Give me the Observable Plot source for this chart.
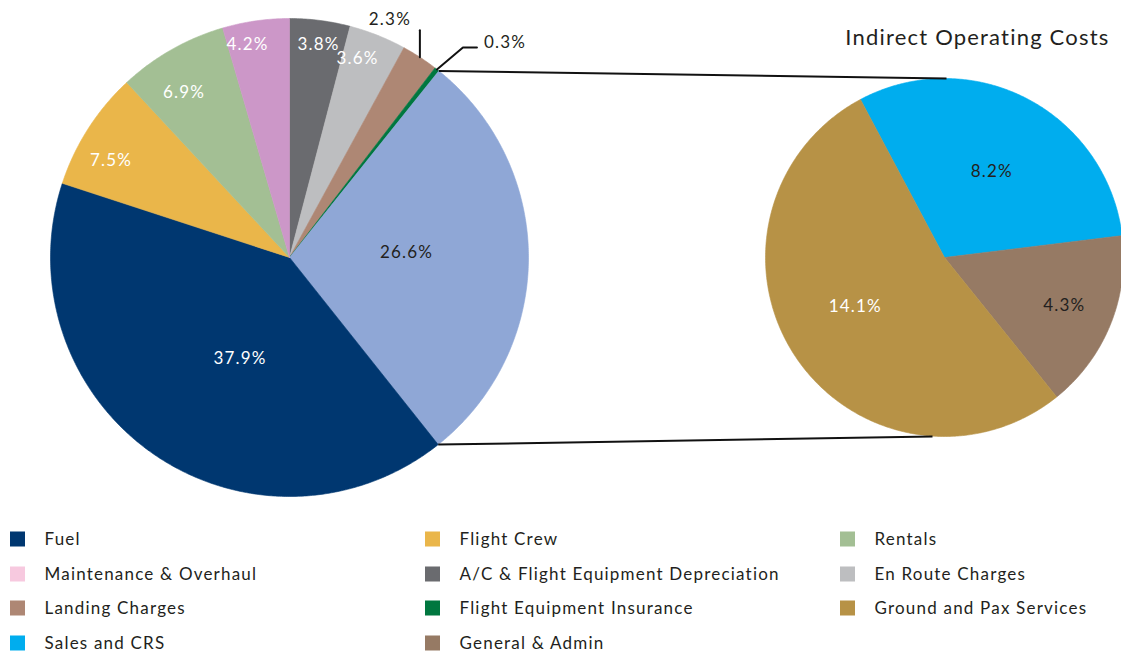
<!DOCTYPE html>
<html>
<head>
<meta charset="utf-8">
<script src="https://cdn.jsdelivr.net/npm/d3@7"></script>
<script src="https://cdn.jsdelivr.net/npm/@observablehq/plot@0.6"></script>
<style>
  html, body { margin: 0; padding: 0; background: #fff; }
  #chart svg { display: block; }
  #chart svg text { letter-spacing: 1.2px; }
  #chart svg g[aria-label="title"] text { letter-spacing: 1.4px; }
</style>
</head>
<body>
<div id="chart"></div>
<script>
// ---------------- DATA ----------------
const mainCategories = [
  "A/C & Flight Equipment Depreciation",
  "En Route Charges",
  "Landing Charges",
  "Flight Equipment Insurance",
  "Indirect Operating Costs",
  "Fuel",
  "Flight Crew",
  "Rentals",
  "Maintenance & Overhaul"
];
const mainValues = [3.8, 3.6, 2.3, 0.3, 26.6, 37.9, 7.5, 6.9, 4.2];

const indirectCategories = ["Sales and CRS", "General & Admin", "Ground and Pax Services"];
const indirectValues = [8.2, 4.3, 14.1];

const legendLabels = [
  "Fuel", "Flight Crew", "Rentals",
  "Maintenance & Overhaul", "A/C & Flight Equipment Depreciation", "En Route Charges",
  "Landing Charges", "Flight Equipment Insurance", "Ground and Pax Services",
  "Sales and CRS", "General & Admin"
];
const secondaryTitle = "Indirect Operating Costs";

// ---------------- STYLE ----------------
const colors = {
  "Fuel": "#003770",
  "Flight Crew": "#EAB64A",
  "Rentals": "#A3BF94",
  "Maintenance & Overhaul": "#CC97C8",
  "A/C & Flight Equipment Depreciation": "#6A6B6F",
  "En Route Charges": "#BDBEC0",
  "Landing Charges": "#AE8774",
  "Flight Equipment Insurance": "#00773F",
  "Indirect Operating Costs": "#8FA7D6",
  "Ground and Pax Services": "#B79246",
  "Sales and CRS": "#00ADEE",
  "General & Admin": "#967A64"
};
const legendColors = Object.assign({}, colors, {"Maintenance & Overhaul": "#F7C9DF"});
const darkText = "#231F20";
const whiteLabel = new Set(["Fuel","Flight Crew","Rentals","Maintenance & Overhaul",
  "A/C & Flight Equipment Depreciation","En Route Charges","Ground and Pax Services"]);
const FONT = "Lato, 'Open Sans', sans-serif";

// ---------------- LAYOUT ----------------
const W = 1121, H = 655;
const mainPie = {cx: 289, cy: 257, r: 239, start: 0};
const subPie = {cx: 944, cy: 257, r: 179, start: -28};
// label placement: fraction of radius, angle nudge (deg)
const labelPlace = {
  "A/C & Flight Equipment Depreciation": [0.9, 0.4],
  "En Route Charges": [0.88, -2.8],
  "Indirect Operating Costs": [0.49, -2.5],
  "Fuel": [0.47, -8.7],
  "Flight Crew": [0.85, -4],
  "Rentals": [0.82, -3],
  "Maintenance & Overhaul": [0.91, -3],
  "Sales and CRS": [0.55, 1.2],
  "General & Admin": [0.72, -0.4],
  "Ground and Pax Services": [0.57, 4.4]
};

const rad = d => d * Math.PI / 180;
const polar = (pie, deg, rr) => [pie.cx + rr * Math.sin(rad(deg)), pie.cy - rr * Math.cos(rad(deg))];

function slices(pie, cats, vals) {
  const total = d3.sum(vals);
  let a = pie.start;
  return cats.map((c, i) => {
    const span = vals[i] / total * 360;
    const s = {category: c, value: vals[i], a0: a, a1: a + span, pie};
    a += span;
    return s;
  });
}
const mainSlices = slices(mainPie, mainCategories, mainValues);
const subSlices = slices(subPie, indirectCategories, indirectValues);
const allSlices = mainSlices.concat(subSlices);

// polygon vertices for each slice
const wedgePts = [];
allSlices.forEach((s, k) => {
  const id = k;
  wedgePts.push({id, x: s.pie.cx, y: s.pie.cy, color: colors[s.category]});
  const n = Math.max(2, Math.ceil((s.a1 - s.a0) / 0.5));
  for (let j = 0; j <= n; j++) {
    const [x, y] = polar(s.pie, s.a0 + (s.a1 - s.a0) * j / n, s.pie.r);
    wedgePts.push({id, x, y, color: colors[s.category]});
  }
  wedgePts.push({id, x: s.pie.cx, y: s.pie.cy, color: colors[s.category]});
});

// inside labels
const labels = allSlices.filter(s => labelPlace[s.category]).map(s => {
  const [f, da] = labelPlace[s.category];
  const [x, y] = polar(s.pie, (s.a0 + s.a1) / 2 + da, s.pie.r * f);
  return {x, y, text: s.value.toFixed(1) + "%", fill: whiteLabel.has(s.category) ? "#ffffff" : darkText};
});

// outside labels with leader lines
const landing = mainSlices.find(s => s.category === "Landing Charges");
const insurance = mainSlices.find(s => s.category === "Flight Equipment Insurance");
const [lx, ly] = polar(mainPie, (landing.a0 + landing.a1) / 2, mainPie.r);
const [ix, iy] = polar(mainPie, (insurance.a0 + insurance.a1) / 2, mainPie.r);
const leaders = [
  {id: 0, x: lx, y: ly}, {id: 0, x: lx, y: ly - 27},
  {id: 1, x: ix, y: iy}, {id: 1, x: ix + 26, y: iy - 22}, {id: 1, x: ix + 40, y: iy - 22}
];
const outLabelLanding = [{x: lx - 30, y: ly - 38, text: landing.value.toFixed(1) + "%"}];
const outLabelInsurance = [{x: ix + 47, y: iy - 27, text: insurance.value.toFixed(1) + "%"}];

// connector lines between pies
const indirect = mainSlices.find(s => s.category === "Indirect Operating Costs");
const [t0x, t0y] = polar(mainPie, indirect.a0, mainPie.r);
const [b0x, b0y] = polar(mainPie, indirect.a1, mainPie.r);
const connectors = [
  {x1: t0x, y1: t0y, x2: subPie.cx + 2, y2: subPie.cy - subPie.r},
  {x1: b0x, y1: b0y, x2: subPie.cx - 12, y2: subPie.cy + subPie.r}
];

// legend
const legendCols = [10, 425, 840];
const legendRows = [539, 574, 608, 643];
const legend = legendLabels.map((name, i) => ({
  name, color: legendColors[name],
  x: legendCols[i % 3], y: legendRows[Math.floor(i / 3)]
}));

const chart = Plot.plot({
  width: W, height: H,
  margin: 0,
  x: {domain: [0, W], range: [0, W], axis: null},
  y: {domain: [0, H], range: [0, H], axis: null},
  color: {type: "identity"},
  style: {fontFamily: FONT, background: "#fff"},
  marks: [
    Plot.line(wedgePts, {x: "x", y: "y", z: "id", fill: "color", stroke: "color", strokeWidth: 0.6, curve: "linear"}),
    Plot.link(connectors, {x1: "x1", y1: "y1", x2: "x2", y2: "y2", stroke: "#111", strokeWidth: 2}),
    Plot.line(leaders, {x: "x", y: "y", z: "id", stroke: "#111", strokeWidth: 2}),
    Plot.text(labels, {x: "x", y: "y", text: "text", fill: "fill", fontSize: 17, fontFamily: FONT}),
    Plot.text(outLabelLanding, {x: "x", y: "y", text: "text", textAnchor: "middle", fill: darkText, fontSize: 17, fontFamily: FONT}),
    Plot.text(outLabelInsurance, {x: "x", y: "y", text: "text", textAnchor: "start", fill: darkText, fontSize: 17, fontFamily: FONT}),
    Plot.text([secondaryTitle], {x: () => 1109, y: () => 37, text: d => d, textAnchor: "end", fill: darkText, fontSize: 22, fontFamily: FONT, ariaLabel: "title"}),
    Plot.rect(legend, {x1: "x", x2: d => d.x + 15, y1: d => d.y - 7.5, y2: d => d.y + 7.5, fill: "color"}),
    Plot.text(legend, {x: d => d.x + 34, y: "y", text: "name", textAnchor: "start", fill: darkText, fontSize: 17, fontFamily: FONT})
  ]
});
document.getElementById("chart").appendChild(chart);
</script>
</body>
</html>
